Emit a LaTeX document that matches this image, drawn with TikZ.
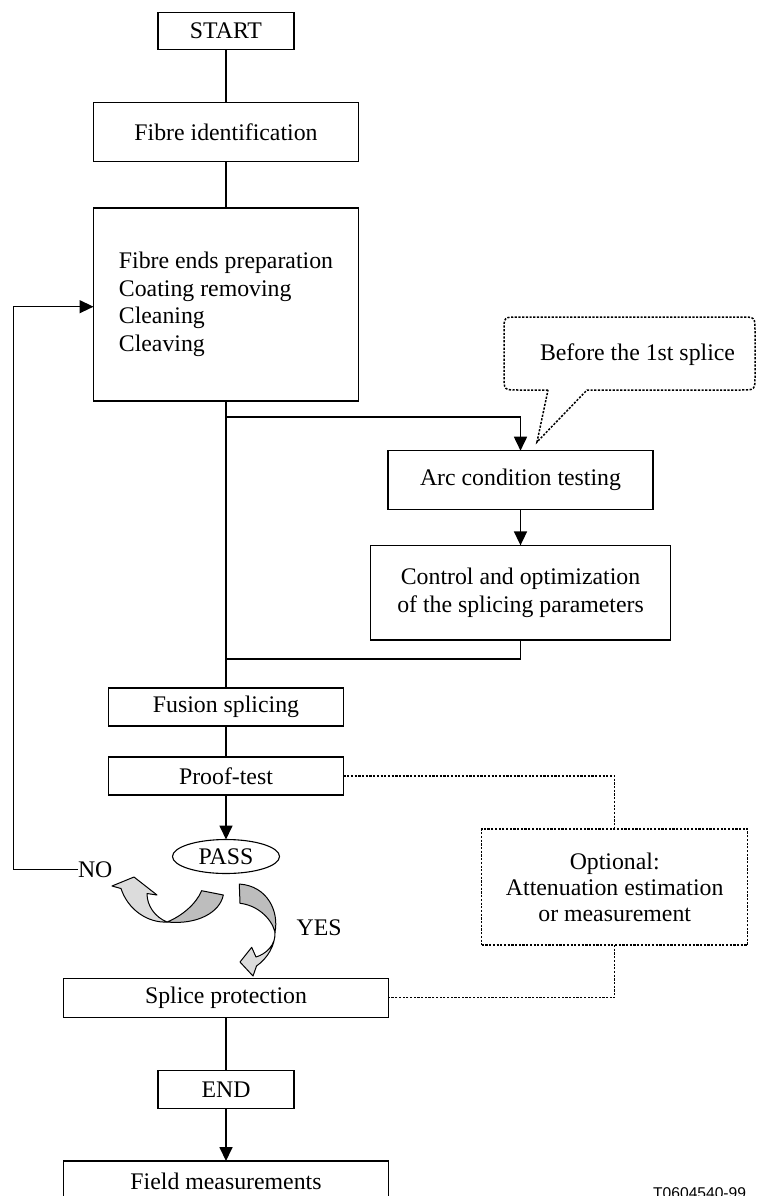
\documentclass[tikz,border=0pt]{standalone}
\usepackage{fontspec}
\setmainfont{Liberation Serif}
\newfontfamily\labelsans{Liberation Sans}
\usetikzlibrary{arrows.meta,shapes.geometric}
\definecolor{lightg}{HTML}{DCDCDC}
\definecolor{darkg}{HTML}{BDBDBD}
\begin{document}
\begin{tikzpicture}[x=1pt,y=-1pt,
  box/.style={draw, line width=1.2pt, rectangle, inner sep=0pt, outer sep=0pt, font=\fontsize{23.8}{27.6}\selectfont},
  conn/.style={line width=1.7pt},
  arr/.style={conn, -{Triangle[length=14pt,width=13pt]}},
  dot/.style={line width=1.5pt, dash pattern=on 2.2pt off 1.5pt},
  lbl/.style={inner sep=0pt, outer sep=0pt, font=\fontsize{23.8}{27.6}\selectfont},
  curv/.style={line width=1pt, line join=round}
]
\useasboundingbox (0,0) rectangle (756,1196);
\clip (0,0) rectangle (756,1196);

% boxes
\node[box, minimum width=136, minimum height=37] (start) at (226,30.8) {START};
\node[box, minimum width=265, minimum height=59] (fid) at (226,132.2) {Fibre identification};
\node[box, minimum width=265, minimum height=193, align=left] (prep) at (226,304.5)
  {Fibre ends preparation\\Coating removing\\Cleaning\\Cleaving};
\node[box, minimum width=265, minimum height=58.6] (arc) at (520.5,480) {Arc condition testing};
\node[box, minimum width=300, minimum height=94.7, align=center] (ctrl) at (520.5,592.7)
  {Control and optimization\\of the splicing parameters};
\node[box, minimum width=235, minimum height=38] (fus) at (226,707) {Fusion splicing};
\node[box, minimum width=235, minimum height=38] (proof) at (226,776) {Proof-test};
\node[draw, ellipse, line width=1.1pt, minimum width=107, minimum height=34, inner sep=0pt, outer sep=0pt,
  font=\fontsize{23.8}{27.6}\selectfont] (pass) at (226,856.5) {PASS};
\node[box, dot, align=center, minimum width=266, minimum height=116, font=\fontsize{23.8}{26}\selectfont]
  (opt) at (614.7,887) {Optional:\\Attenuation estimation\\or measurement};
\node[box, minimum width=325, minimum height=39] (prot) at (226,997.7) {Splice protection};
\node[box, minimum width=136, minimum height=37.6] (end) at (226,1089.5) {END};
\node[box, minimum width=325, minimum height=40] (field) at (226,1181) {Field measurements};

% labels
\node[lbl, anchor=base] (bub) at (637.5,360) {Before the 1st splice};
\node[lbl, anchor=base west] (no) at (78,877) {NO};
\node[lbl, anchor=base west] (yes) at (296.7,935.7) {YES};
\node[inner sep=0pt, anchor=base west, font=\labelsans\fontsize{15.6}{18}\selectfont] (tid) at (653,1198) {T0604540-99};

% callout bubble
\draw[dot] (548,390) -- (518,390) .. controls (504,390) .. (504,376) -- (504,331)
  .. controls (504,317) .. (518,317) -- (741,317) .. controls (755,317) .. (755,331)
  -- (755,376) .. controls (755,390) .. (741,390) -- (587,390) -- (537,442) -- cycle;

% connectors
\coordinate (b1) at (226,416.7);
\coordinate (j1) at (226,658.7);
\coordinate (loopc) at (13.3,306.7);
\draw[conn] (start) -- (fid);
\draw[conn] (fid) -- (prep);
\draw[conn] (prep.south) -- (fus.north);
\draw[arr] (b1) -| (arc.north);
\draw[arr] (arc) -- (ctrl);
\draw[conn] (ctrl.south) |- (j1);
\draw[conn] (fus) -- (proof);
\draw[arr] (proof) -- (pass);
\draw[arr, line width=1.4pt] (no.west) -| (loopc) -- (prep.west |- loopc);
\draw[arr] (end) -- (field);
\draw[conn] (prot) -- (end);
\draw[dot] (proof.east) -| (opt.north);
\draw[dot] (opt.south) |- (prot.east);

% NO curved arrow
\filldraw[curv, fill=lightg] (112,886) -- (134,877) -- (157,895) -- (147,893.5)
  .. controls (147,906) and (155,917) .. (167,922)
  .. controls (148,923) and (128,910) .. (121,888.5) -- cycle;
\filldraw[curv, fill=darkg] (167,922) .. controls (182,916) and (196,904) .. (201.7,890.7)
  -- (223.3,895) .. controls (220,912) and (198,925) .. (167,922) -- cycle;

% YES curved arrow
\filldraw[curv, fill=lightg] (275,932) .. controls (276,945) and (266,954) .. (256,957)
  -- (251.7,947.3) -- (240,962) -- (253,976) -- (256.5,966)
  .. controls (268,958) and (275,945) .. (275,933) -- cycle;
\filldraw[curv, fill=darkg] (239.3,884) -- (240,903.3)
  .. controls (256,905) and (271,917) .. (275,932)
  .. controls (279,912) and (268,886) .. (239.3,884) -- cycle;
\end{tikzpicture}
\end{document}
